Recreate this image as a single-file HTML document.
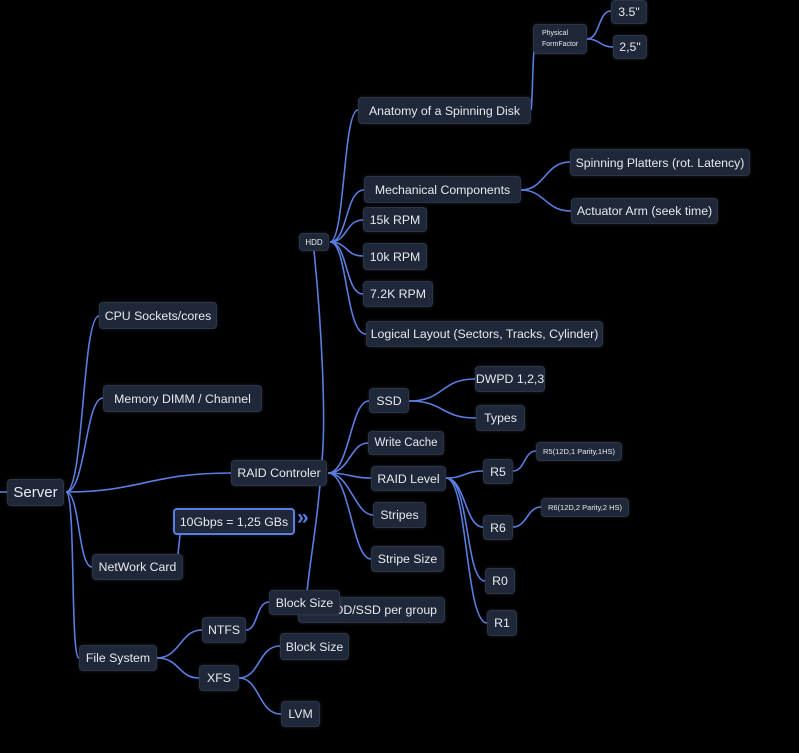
<!DOCTYPE html>
<html><head><meta charset="utf-8"><style>
html,body{margin:0;padding:0;background:#000;width:799px;height:753px;overflow:hidden;font-family:"Liberation Sans",Arial,sans-serif}
.n{position:absolute;background:#1f2838;color:#e6e9ef;border-radius:4px;box-sizing:border-box;display:flex;align-items:center;justify-content:center;white-space:nowrap;font-size:12.3px;box-shadow:0 0 3px rgba(120,140,180,.25);border:1px solid #2b3547}
svg{position:absolute;left:0;top:0}
</style></head><body>
<svg width="799" height="753" fill="none" stroke="#5a7ee0" stroke-width="1.6">
<path d="M0 492 L7 492"/>
<path d="M66 492 C84 492 82 316 99 316"/>
<path d="M66 492 C86 492 85 398 103 398"/>
<path d="M66 492 C140 492 150 473 231 473"/>
<path d="M66 492 C80 492 78 567 92 567"/>
<path d="M66 492 C76 492 70 658 79 658"/>
<path d="M178 554 L180 535"/>
<path d="M314 251 C322 330 326 420 322 460 C318 520 310 560 307 592"/>
<path d="M328 473 C350 473 350 401 369 401"/>
<path d="M328 473 C350 473 350 443 368 443"/>
<path d="M328 473 C350 473 350 478 371 478"/>
<path d="M328 473 C350 473 355 515 373 515"/>
<path d="M328 473 C350 473 352 559 371 559"/>
<path d="M330 242 C345 242 343 110 358 110"/>
<path d="M330 242 C348 242 345 190 364 190"/>
<path d="M330 242 C348 242 345 220 363 220"/>
<path d="M330 242 C348 242 345 256 363 256"/>
<path d="M330 242 C348 242 345 294 363 294"/>
<path d="M330 242 C348 242 345 334 366 334"/>
<path d="M531 110 C533 100 532 50 536 39"/>
<path d="M587 39 C600 39 598 11 611 11"/>
<path d="M587 39 C600 39 600 47 613 47"/>
<path d="M521 190 C545 190 545 162 570 162"/>
<path d="M521 190 C545 190 545 211 571 211"/>
<path d="M409 401 C445 401 440 379 475 379"/>
<path d="M409 401 C445 401 440 418 476 418"/>
<path d="M446 478 C465 478 465 471 483 471"/>
<path d="M446 478 C465 478 465 527 483 527"/>
<path d="M446 478 C470 478 465 581 485 581"/>
<path d="M446 478 C468 478 465 623 487 623"/>
<path d="M513 471 C525 471 524 451 536 451"/>
<path d="M513 527 C527 527 527 507 541 507"/>
<path d="M157 658 C180 658 180 630 202 630"/>
<path d="M157 658 C180 658 178 678 199 678"/>
<path d="M246 630 C258 630 256 602 269 602"/>
<path d="M239 678 C260 678 258 646 280 646"/>
<path d="M239 678 C260 678 258 714 281 714"/>
</svg>
<div class="n" style="left:7px;top:479px;width:57px;height:27px;font-size:15px">Server</div>
<div class="n" style="left:99px;top:302px;width:118px;height:27px">CPU Sockets/cores</div>
<div class="n" style="left:103px;top:385px;width:159px;height:27px">Memory DIMM / Channel</div>
<div class="n" style="left:231px;top:460px;width:96px;height:26px">RAID Controler</div>
<div class="n" style="left:92px;top:554px;width:91px;height:26px">NetWork Card</div>
<div class="n" style="left:173px;top:508px;width:122px;height:27px;border:2px solid #5a7ee0">10Gbps = 1,25 GBs</div>
<div style="position:absolute;left:297px;top:506px;color:#5a7ee0;font-size:21px;font-weight:bold">»</div>
<div class="n" style="left:79px;top:645px;width:78px;height:26px">File System</div>
<div class="n" style="left:299px;top:233px;width:30px;height:18px;font-size:8px">HDD</div>
<div class="n" style="left:358px;top:97px;width:173px;height:27px">Anatomy of a Spinning Disk</div>
<div class="n" style="left:533px;top:24px;width:54px;height:30px;font-size:7px;line-height:11px;flex-direction:column;align-items:flex-start;padding-left:8px">Physical<br>FormFactor</div>
<div class="n" style="left:611px;top:0px;width:36px;height:24px">3.5"</div>
<div class="n" style="left:613px;top:35px;width:34px;height:24px">2,5"</div>
<div class="n" style="left:364px;top:176px;width:157px;height:27px">Mechanical Components</div>
<div class="n" style="left:570px;top:149px;width:180px;height:27px">Spinning Platters (rot. Latency)</div>
<div class="n" style="left:571px;top:198px;width:147px;height:26px">Actuator Arm (seek time)</div>
<div class="n" style="left:363px;top:207px;width:64px;height:25px">15k RPM</div>
<div class="n" style="left:363px;top:243px;width:64px;height:27px">10k RPM</div>
<div class="n" style="left:363px;top:281px;width:70px;height:26px">7.2K RPM</div>
<div class="n" style="left:366px;top:321px;width:237px;height:26px">Logical Layout (Sectors, Tracks, Cylinder)</div>
<div class="n" style="left:369px;top:388px;width:40px;height:25px">SSD</div>
<div class="n" style="left:475px;top:366px;width:70px;height:26px">DWPD 1,2,3</div>
<div class="n" style="left:476px;top:405px;width:49px;height:26px">Types</div>
<div class="n" style="left:368px;top:431px;width:76px;height:24px;font-size:11.5px">Write Cache</div>
<div class="n" style="left:371px;top:466px;width:75px;height:25px">RAID Level</div>
<div class="n" style="left:483px;top:459px;width:30px;height:25px">R5</div>
<div class="n" style="left:536px;top:442px;width:86px;height:19px;font-size:7.5px">R5(12D,1 Parity,1HS)</div>
<div class="n" style="left:483px;top:515px;width:30px;height:25px">R6</div>
<div class="n" style="left:541px;top:498px;width:88px;height:19px;font-size:7.5px">R6(12D,2 Parity,2 HS)</div>
<div class="n" style="left:485px;top:568px;width:30px;height:26px">R0</div>
<div class="n" style="left:487px;top:610px;width:30px;height:26px">R1</div>
<div class="n" style="left:373px;top:502px;width:53px;height:26px">Stripes</div>
<div class="n" style="left:371px;top:546px;width:73px;height:26px">Stripe Size</div>
<div class="n" style="left:298px;top:597px;width:147px;height:26px;justify-content:flex-end;padding-right:7px">HDD/SSD per group</div>
<div class="n" style="left:269px;top:590px;width:71px;height:25px">Block Size</div>
<div class="n" style="left:202px;top:617px;width:44px;height:26px">NTFS</div>
<div class="n" style="left:199px;top:665px;width:40px;height:26px">XFS</div>
<div class="n" style="left:280px;top:633px;width:69px;height:27px">Block Size</div>
<div class="n" style="left:281px;top:701px;width:39px;height:26px">LVM</div>
</body></html>
